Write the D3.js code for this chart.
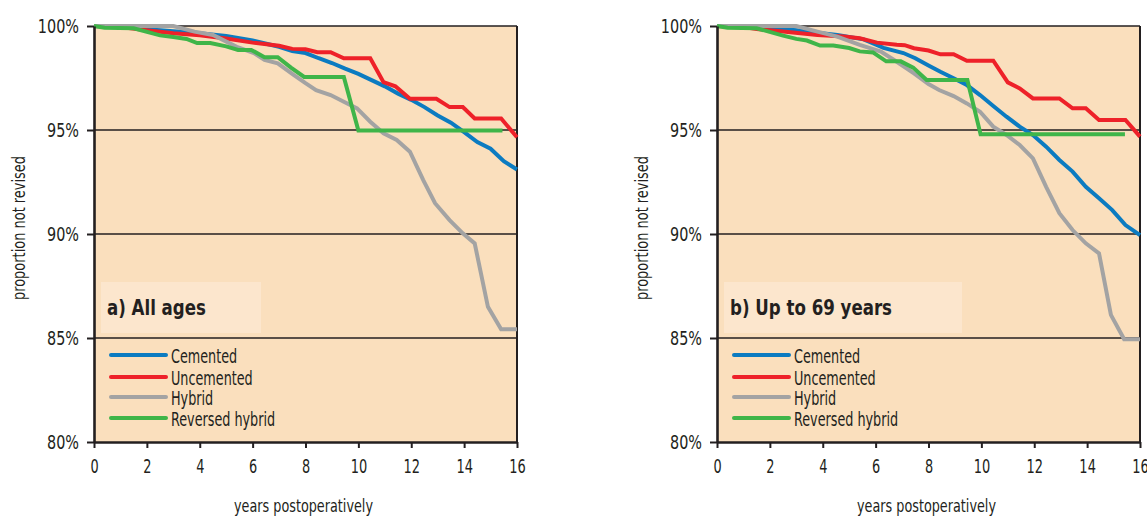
<!DOCTYPE html>
<html>
<head>
<meta charset="utf-8">
<script src="https://cdn.jsdelivr.net/npm/d3@7/dist/d3.min.js"></script>
<style>
  body { margin: 0; background: #fff; }
  svg { display: block; }
  text { font-family: "DejaVu Sans Condensed", "Liberation Sans Narrow", sans-serif; fill: #231f20; }
</style>
</head>
<body>
<svg id="chart" width="1147" height="518"></svg>
<script>
// ---------- data (years postoperatively, % not revised) ----------
const seriesNames = ["Cemented", "Uncemented", "Hybrid", "Reversed hybrid"];
const seriesColors = ["#0b7bc1", "#ee2129", "#a3a3a3", "#3fb549"];
const panelTitles = ["a) All ages", "b) Up to 69 years"];
const xTicks = [0, 2, 4, 6, 8, 10, 12, 14, 16];
const yTicks = [80, 85, 90, 95, 100];
const gridValues = [85, 90, 95, 100];

// Panel a) All ages
const cementedA = [[0,100],[1,99.98],[2,99.85],[3,99.75],[4,99.65],[5,99.52],[6,99.3],[7,99.0],[7.5,98.8],[8,98.7],[8.5,98.45],[9,98.22],[9.5,97.95],[10,97.7],[10.5,97.4],[11,97.1],[11.5,96.75],[12,96.45],[12.5,96.1],[13,95.7],[13.5,95.35],[14,94.9],[14.5,94.42],[15,94.1],[15.5,93.5],[16,93.1]];
const uncementedA = [[0,100],[1,99.95],[2,99.8],[3,99.65],[4,99.55],[5,99.4],[6,99.2],[7,99.05],[7.5,98.9],[8,98.88],[8.45,98.74],[8.95,98.74],[9.45,98.45],[10.45,98.45],[10.95,97.3],[11.4,97.1],[11.95,96.5],[12.95,96.5],[13.45,96.1],[13.95,96.1],[14.4,95.55],[15.4,95.55],[16,94.65]];
const hybridA = [[0,100],[3,100],[3.8,99.73],[4.5,99.57],[5.4,99.0],[6.05,98.7],[6.45,98.37],[6.95,98.2],[7.55,97.65],[8,97.25],[8.4,96.92],[8.95,96.68],[9.45,96.36],[9.95,96.04],[10.45,95.4],[10.95,94.84],[11.45,94.52],[11.95,93.96],[12.45,92.6],[12.9,91.48],[13.45,90.67],[13.95,90.03],[14.4,89.55],[14.9,86.5],[15.4,85.42],[16,85.42]];
const reversedA = [[0,100],[0.4,99.92],[1.5,99.89],[2.5,99.55],[3,99.47],[3.5,99.38],[3.9,99.18],[4.4,99.18],[5.0,99.02],[5.45,98.85],[5.95,98.85],[6.45,98.5],[6.95,98.5],[7.45,98.0],[7.95,97.55],[9.45,97.55],[10.0,94.97],[15.45,94.97]];

// Panel b) Up to 69 years
const cementedB = [[0,100],[1,99.98],[2,99.9],[3,99.8],[3.8,99.68],[4.55,99.57],[5.55,99.36],[6.3,98.95],[7.05,98.7],[7.5,98.45],[8,98.1],[8.45,97.8],[8.95,97.49],[9.45,97.16],[9.95,96.68],[10.45,96.15],[10.95,95.64],[11.45,95.16],[11.95,94.76],[12.45,94.2],[12.95,93.56],[13.45,93.0],[13.95,92.27],[14.45,91.72],[14.95,91.15],[15.45,90.43],[16,89.95]];
const uncementedB = [[0,100],[1,99.95],[1.5,99.85],[2.5,99.73],[3.8,99.57],[4.8,99.49],[5.4,99.41],[6.05,99.2],[6.8,99.1],[7.1,99.08],[7.45,98.93],[8,98.82],[8.45,98.64],[8.95,98.64],[9.45,98.33],[10.45,98.33],[11.0,97.29],[11.45,97.0],[11.95,96.52],[12.95,96.52],[13.45,96.04],[13.95,96.04],[14.45,95.48],[15.45,95.48],[16,94.68]];
const hybridB = [[0,100],[3,100],[3.8,99.73],[4.55,99.49],[5.4,99.09],[6.2,98.77],[6.8,98.28],[7.45,97.72],[8,97.21],[8.4,96.92],[8.95,96.63],[9.45,96.28],[9.95,95.88],[10.45,95.16],[10.95,94.76],[11.45,94.28],[11.95,93.64],[12.45,92.27],[12.95,91.0],[13.45,90.19],[13.95,89.55],[14.45,89.07],[14.9,86.11],[15.4,84.94],[16,84.94]];
const reversedB = [[0,100],[0.4,99.92],[1.5,99.89],[2.5,99.54],[3,99.38],[3.4,99.3],[3.9,99.06],[4.4,99.06],[5.0,98.94],[5.4,98.78],[5.9,98.73],[6.4,98.3],[6.95,98.3],[7.42,98.0],[7.93,97.4],[9.47,97.4],[9.97,94.79],[15.43,94.79]];

const panelSeries = [
  [cementedA, uncementedA, hybridA, reversedA],
  [cementedB, uncementedB, hybridB, reversedB]
];

// ---------- helpers ----------
// narrow the glyphs horizontally to imitate a condensed typeface
function squeeze(sel, k) {
  sel.each(function () {
    const L = this.getComputedTextLength();
    this.setAttribute("textLength", (L * k).toFixed(1));
    this.setAttribute("lengthAdjust", "spacingAndGlyphs");
  });
}

// ---------- layout ----------
const svg = d3.select("#chart");
const plotLefts = [94, 717];
const plotW = 423;
const plotTop = 26, plotBottom = 442;
const ink = "#231f20";

panelSeries.forEach((series, p) => {
  const x0 = plotLefts[p];
  const x = d3.scaleLinear().domain([0, 16]).range([x0, x0 + plotW]);
  const y = d3.scaleLinear().domain([80, 100]).range([plotBottom, plotTop]);
  const g = svg.append("g");

  // background
  g.append("rect")
    .attr("x", x0).attr("y", plotTop)
    .attr("width", plotW).attr("height", plotBottom - plotTop)
    .attr("fill", "#fadfbd");

  // panel label box
  g.append("rect")
    .attr("x", x0 + 7).attr("y", 282)
    .attr("width", p === 0 ? 160 : 238).attr("height", 51)
    .attr("fill", "#fce6cd");
  g.append("text")
    .attr("x", x0 + 13).attr("y", 315)
    .attr("font-size", 22).attr("font-weight", "bold")
    .text(panelTitles[p])
    .call(squeeze, 0.84);

  // grid lines
  g.selectAll("line.grid").data(gridValues).enter().append("line")
    .attr("x1", x0).attr("x2", x0 + plotW)
    .attr("y1", d => y(d)).attr("y2", d => y(d))
    .attr("stroke", ink).attr("stroke-width", 1.6);

  // right border
  g.append("line")
    .attr("x1", x0 + plotW).attr("x2", x0 + plotW)
    .attr("y1", plotTop).attr("y2", plotBottom)
    .attr("stroke", ink).attr("stroke-width", 2);

  // series lines
  const line = d3.line().x(d => x(d[0])).y(d => y(d[1]));
  series.forEach((s, i) => {
    g.append("path")
      .attr("d", line(s))
      .attr("fill", "none")
      .attr("stroke", seriesColors[i])
      .attr("stroke-width", 4)
      .attr("stroke-linejoin", "miter");
  });

  // axes
  const yAxis = d3.axisLeft(y).tickValues(yTicks).tickFormat(d => d + "%").tickSize(7).tickSizeOuter(0).tickPadding(8);
  const ya = g.append("g").attr("transform", `translate(${x0},0)`).call(yAxis);
  const xAxis = d3.axisBottom(x).tickValues(xTicks).tickSize(6).tickSizeOuter(0).tickPadding(11);
  const xa = g.append("g").attr("transform", `translate(0,${plotBottom})`).call(xAxis);
  [ya, xa].forEach(a => {
    a.select(".domain").attr("stroke", ink).attr("stroke-width", 2.6);
    a.selectAll(".tick line").attr("stroke", ink).attr("stroke-width", 2);
    a.selectAll(".tick text").attr("font-size", 20).attr("fill", ink)
      .style("font-family", '"DejaVu Sans Condensed", "Liberation Sans Narrow", sans-serif');
  });
  ya.selectAll(".tick text").call(squeeze, 0.8);
  xa.selectAll(".tick text").call(squeeze, 0.72);

  // legend
  seriesNames.forEach((name, i) => {
    const ly = [355, 377, 397, 418][i];
    g.append("line")
      .attr("x1", x0 + 17).attr("x2", x0 + 72)
      .attr("y1", ly).attr("y2", ly)
      .attr("stroke", seriesColors[i]).attr("stroke-width", 4)
      .attr("stroke-linecap", "round");
    g.append("text")
      .attr("x", x0 + 77).attr("y", ly + 8)
      .attr("font-size", 20)
      .text(name)
      .call(squeeze, 0.71);
  });

  // axis titles
  g.append("text")
    .attr("x", x0 + plotW / 2 - 2).attr("y", 512)
    .attr("text-anchor", "middle").attr("font-size", 18)
    .text("years postoperatively")
    .call(squeeze, 0.79);
  g.append("text")
    .attr("transform", `translate(${x0 - 69},${(plotTop + plotBottom) / 2 - 6}) rotate(-90)`)
    .attr("text-anchor", "middle").attr("font-size", 18)
    .text("proportion not revised")
    .call(squeeze, 0.8);
});
</script>
</body>
</html>
